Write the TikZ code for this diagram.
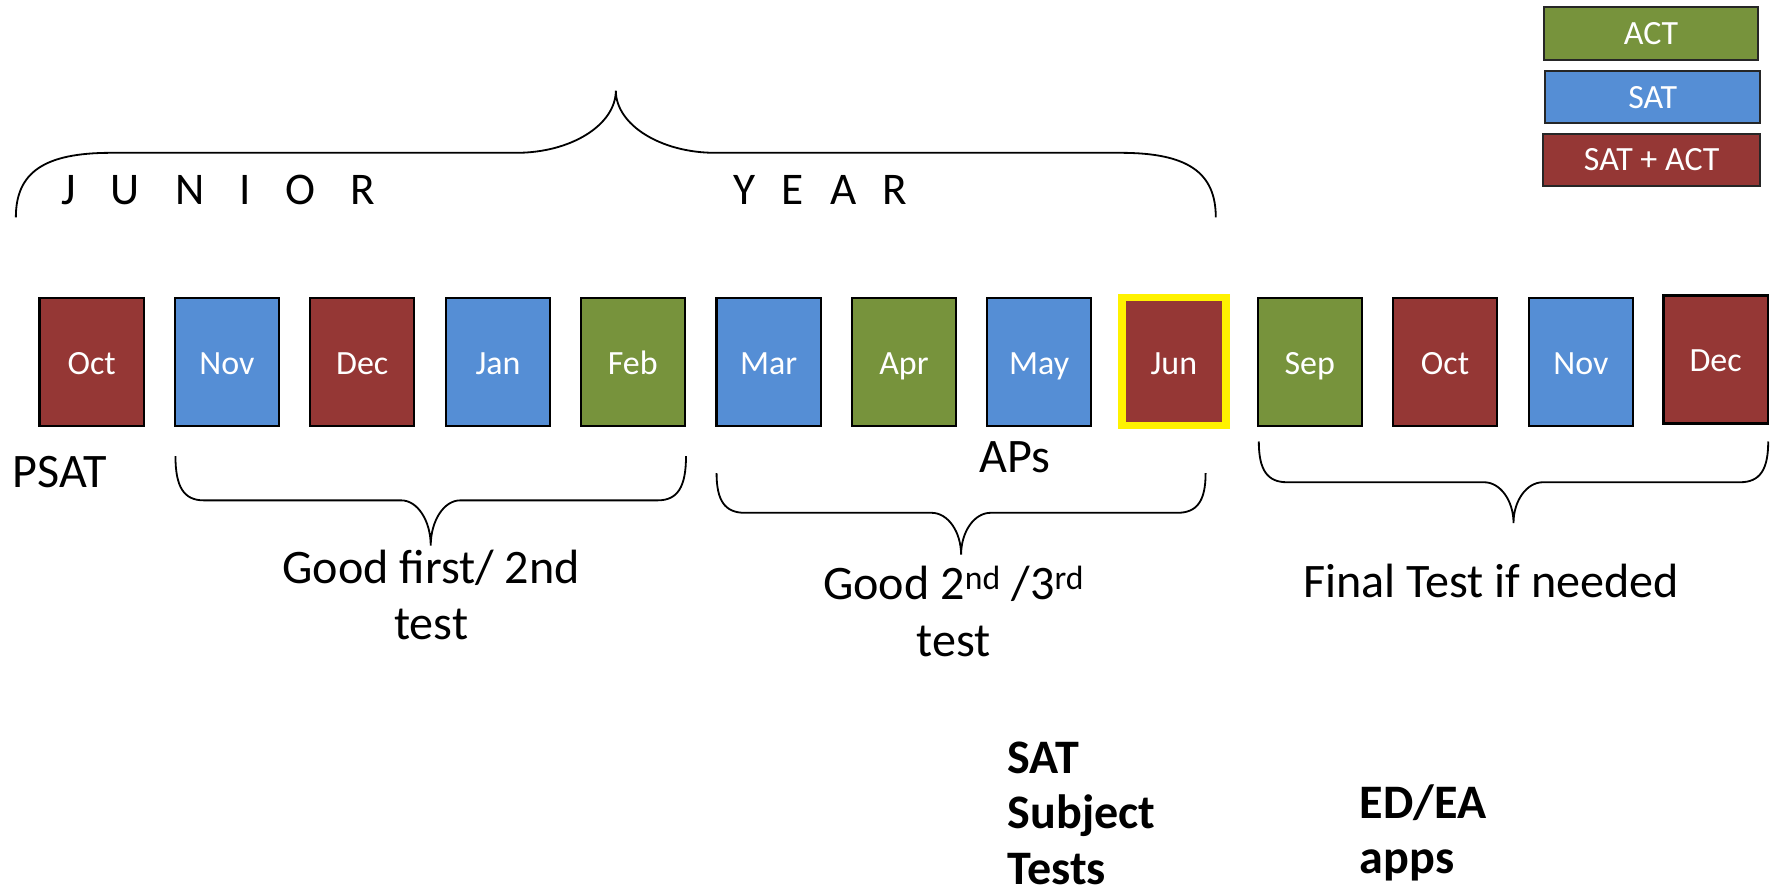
\documentclass[tikz,border=0pt]{standalone}
\usepackage{fontspec}
\setmainfont{Carlito}
\definecolor{satred}{HTML}{953735}
\definecolor{satblue}{HTML}{558ED5}
\definecolor{actgreen}{HTML}{77933C}
\newcommand\bracepath[7]{% x1 x2 yend yh ytip endw tipw
  \draw[bracestyle] (#1,#3) .. controls (#1,{#3+0.7*(#4-#3)}) and ({#1+0.3*#6},#4) .. ({#1+#6},#4)
  -- ({(#1+#2)/2-#7},#4) .. controls ({(#1+#2)/2-0.45*#7},#4) and ({(#1+#2)/2},{#4+0.45*(#5-#4)}) .. ({(#1+#2)/2},#5)
  .. controls ({(#1+#2)/2},{#4+0.45*(#5-#4)}) and ({(#1+#2)/2+0.45*#7},#4) .. ({(#1+#2)/2+#7},#4)
  -- ({#2-#6},#4) .. controls ({#2-0.3*#6},#4) and (#2,{#3+0.7*(#4-#3)}) .. (#2,#3);}
\begin{document}
\begin{tikzpicture}[x=1pt,y=-1pt,
  bracestyle/.style={draw=black,line width=1.6pt},
  mbox/.style={draw=black,line width=2pt,minimum width=92pt,minimum height=113pt,
    inner sep=0pt,text=white,text height=22.2pt,text depth=0pt,font=\fontsize{30}{36}\selectfont},
  lbox/.style={draw=black!85,line width=1.8pt,minimum width=190pt,minimum height=46pt,
    inner sep=0pt,text=white,text height=20pt,text depth=0pt,font=\fontsize{30}{36}\selectfont},
  big/.style={inner sep=0pt,font=\fontsize{42.5}{50}\selectfont},
  bigb/.style={inner sep=0pt,font=\fontsize{42.5}{49}\selectfont\bfseries}]
\useasboundingbox (0,0) rectangle (1568,788);
% legend
\node[lbox,fill=actgreen,minimum width=189pt,minimum height=47pt] (lact) at (1458.5,29.5) {ACT};
\node[lbox,fill=satblue] (lsat) at (1460,85.5) {SAT};
\node[lbox,fill=satred,minimum width=192pt] (lboth) at (1459,141) {SAT + ACT};
% months
\node[mbox,fill=satred] (m1) at (81,319.5) {Oct};
\node[mbox,fill=satblue] (m2) at (200.5,319.5) {Nov};
\node[mbox,fill=satred] (m3) at (320,319.5) {Dec};
\node[mbox,fill=satblue] (m4) at (440,319.5) {Jan};
\node[mbox,fill=actgreen] (m5) at (559,319.5) {Feb};
\node[mbox,fill=satblue] (m6) at (679,319.5) {Mar};
\node[mbox,fill=actgreen] (m7) at (798.5,319.5) {Apr};
\node[mbox,fill=satblue] (m8) at (918,319.5) {May};
\node[mbox,fill=satred,draw=yellow,line width=6.5pt] (m9) at (1037,319.5) {Jun};
\node[mbox,fill=actgreen] (m10) at (1157,319.5) {Sep};
\node[mbox,fill=satred] (m11) at (1276.5,319.5) {Oct};
\node[mbox,fill=satblue] (m12) at (1396.5,319.5) {Nov};
\node[mbox,fill=satred] (m13) at (1515.5,317.5) {Dec};
% junior year brace
\bracepath{14}{1074}{192}{135}{80}{84}{88}
\node[inner sep=0pt,anchor=base west,font=\fontsize{40}{48}\selectfont] (junior) at (54,181)
  {J\hspace{31pt}U\hspace{31pt}N\hspace{31pt}I\hspace{31pt}O\hspace{31pt}R};
\node[inner sep=0pt,anchor=base west,font=\fontsize{40}{48}\selectfont] (year) at (648,181)
  {Y\hspace{23pt}E\hspace{23pt}A\hspace{23pt}R};
% lower braces
\bracepath{155}{606}{403}{442}{482}{25}{26}
\bracepath{633}{1065}{418}{453}{490}{25}{26}
\bracepath{1112}{1562}{390}{426}{462}{25}{26}
% labels (base anchor of a multi-line node = baseline of its last line)
\node[big,anchor=base west] (psat) at (11,431) {PSAT};
\node[big,anchor=base west] (aps) at (865,417) {APs};
\node[big,anchor=base,align=center] (good1) at (381,565) {Good first/ 2nd\\test};
\node[big,anchor=base,align=center] (good2) at (842.5,580) {Good 2\textsuperscript{nd} /3\textsuperscript{rd}\\test};
\node[big,anchor=base west] (final) at (1151,528) {Final Test if needed};
\node[bigb,anchor=base west,align=left] (subj) at (890,781) {SAT\\Subject\\Tests};
\node[bigb,anchor=base west,align=left] (edea) at (1201,772) {ED/EA\\apps};
\end{tikzpicture}
\end{document}
